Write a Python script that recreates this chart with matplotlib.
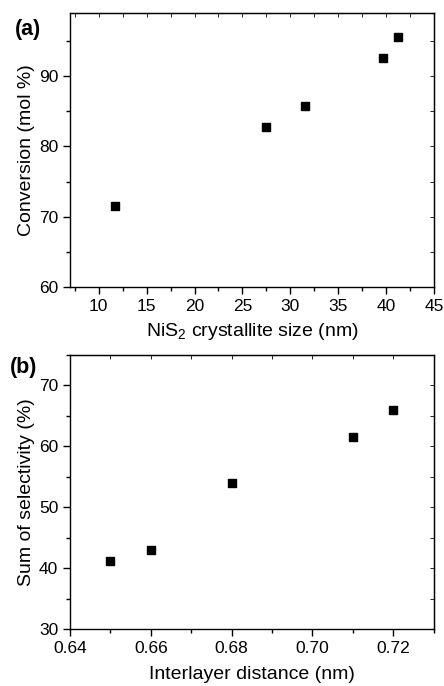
import matplotlib
matplotlib.use("Agg")
import matplotlib.pyplot as plt
from matplotlib.ticker import MultipleLocator, FormatStrFormatter

plt.rcParams['font.family'] = ['Liberation Sans', 'DejaVu Sans']
plt.rcParams['mathtext.fontset'] = 'custom'
plt.rcParams['mathtext.rm'] = 'Liberation Sans'

size_nm = [11.7, 27.5, 31.5, 39.7, 41.2]
conversion = [71.5, 82.8, 85.8, 92.6, 95.6]

interlayer = [0.65, 0.66, 0.68, 0.71, 0.72]
selectivity = [41.2, 43.0, 54.0, 61.5, 66.0]

fig = plt.figure(figsize=(4.44, 6.86), dpi=100)
W, H = 444, 686
ax1 = fig.add_axes([70/W, 1-287/H, 364/W, 274/H])
ax2 = fig.add_axes([70/W, 1-629.3/H, 364/W, 274.3/H])

def style(ax):
    for s in ax.spines.values():
        s.set_linewidth(1.0)
    ax.tick_params(which='both', direction='out', labelsize=12.5, width=1.0,
                   top=False, right=False)
    ax.tick_params(which='major', length=5)
    ax.tick_params(which='minor', length=3)
    sec_x = ax.secondary_xaxis('top')
    sec_x.tick_params(which='both', direction='in', width=0.6, length=3)
    sec_x.set_xticks(ax.get_xticks(minor=True), minor=True)
    sec_x.set_xticklabels([])
    sec_y = ax.secondary_yaxis('right')
    sec_y.tick_params(which='both', direction='in', width=0.6, length=3)
    sec_y.set_yticks(ax.get_yticks(minor=True), minor=True)
    sec_y.set_yticklabels([])

ax1.scatter(size_nm, conversion, marker='s', s=32, color='black', zorder=3)
ax1.set_xlim(7, 45)
ax1.set_ylim(60, 99)
ax1.xaxis.set_major_locator(MultipleLocator(5))
ax1.xaxis.set_minor_locator(MultipleLocator(2.5))
ax1.yaxis.set_major_locator(MultipleLocator(10))
ax1.yaxis.set_minor_locator(MultipleLocator(5))
ax1.set_xlabel('NiS$_2$ crystallite size (nm)', fontsize=14, labelpad=5)
ax1.set_ylabel('Conversion (mol %)', fontsize=14, labelpad=3)
style(ax1)

ax2.scatter(interlayer, selectivity, marker='s', s=32, color='black', zorder=3)
ax2.set_xlim(0.64, 0.7301)
ax2.set_ylim(30, 75)
ax2.xaxis.set_major_locator(MultipleLocator(0.02))
ax2.xaxis.set_minor_locator(MultipleLocator(0.01))
ax2.yaxis.set_major_locator(MultipleLocator(10))
ax2.yaxis.set_minor_locator(MultipleLocator(5))
ax2.xaxis.set_major_formatter(FormatStrFormatter('%.2f'))
ax2.set_xlabel('Interlayer distance (nm)', fontsize=14, labelpad=7)
ax2.set_ylabel('Sum of selectivity (%)', fontsize=14, labelpad=3)
style(ax2)

fig.text(15/W, 1-29/H, '(a)', fontsize=15.5, fontweight='bold', va='center', ha='left')
fig.text(10/W, 1-368/H, '(b)', fontsize=15.5, fontweight='bold', va='center', ha='left')

fig.savefig('out.png', dpi=100)
